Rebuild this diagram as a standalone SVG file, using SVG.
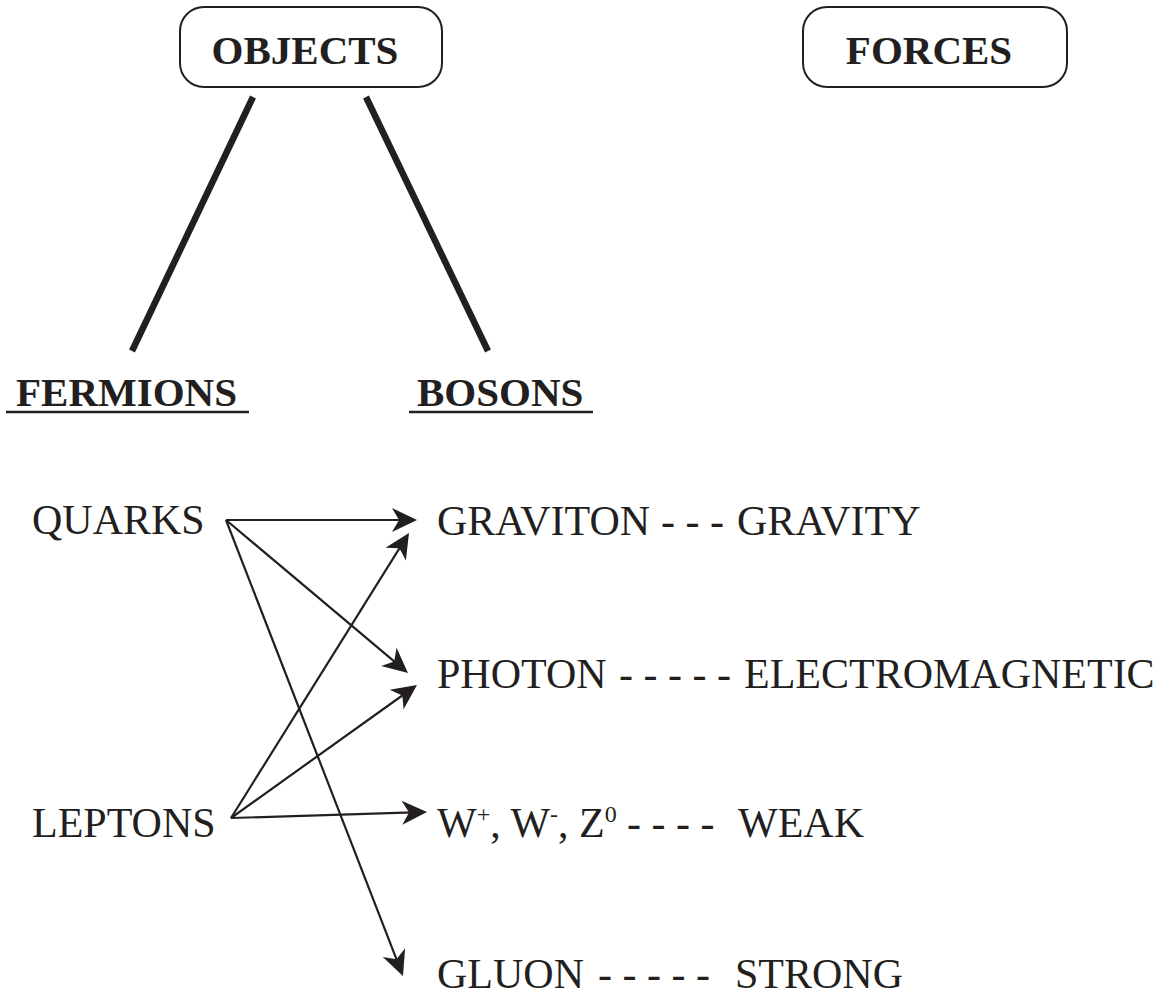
<svg xmlns="http://www.w3.org/2000/svg" width="1167" height="998" viewBox="0 0 1167 998">
  <style>
    .box { fill: #ffffff; stroke: #231f20; stroke-width: 2; }
    .hdr { font-family: "Liberation Serif", "Times New Roman", serif; font-weight: bold; font-size: 41px; fill: #231f20; }
    .lbl { font-family: "Liberation Serif", "Times New Roman", serif; font-size: 42px; fill: #231f20; }
    .thick { stroke: #231f20; stroke-width: 6.5; fill: none; }
    .ul { stroke: #231f20; stroke-width: 2.7; }
    .arr { stroke: #231f20; stroke-width: 2.2; fill: none; marker-end: url(#ah); }
  </style>
  <defs>
    <marker id="ah" markerUnits="userSpaceOnUse" viewBox="-20 -13 28 26" markerWidth="28" markerHeight="26" refX="0" refY="0" orient="auto">
      <path d="M6,0 L-19,-12 L-12,0 L-19,12 Z" fill="#231f20"/>
    </marker>
  </defs>
  <rect width="1167" height="998" fill="#ffffff"/>

  <g id="objects">
    <rect class="box" x="180" y="7" width="262" height="80" rx="24"/>
    <text class="hdr" x="305" y="64" text-anchor="middle">OBJECTS</text>
  </g>
  <g id="forces">
    <rect class="box" x="803" y="7" width="264" height="80" rx="24"/>
    <text class="hdr" x="929" y="64" text-anchor="middle">FORCES</text>
  </g>
  <g id="fermions">
    <text class="hdr" x="16" y="406">FERMIONS</text>
    <line class="ul" x1="6" y1="412" x2="249" y2="412"/>
  </g>
  <g id="bosons">
    <text class="hdr" x="417" y="406">BOSONS</text>
    <line class="ul" x1="409" y1="412" x2="593" y2="412"/>
  </g>
  <g id="quarks">
    <text class="lbl" x="32" y="534">QUARKS</text>
  </g>
  <g id="leptons">
    <text class="lbl" x="32" y="837">LEPTONS</text>
  </g>
  <g id="graviton">
    <text class="lbl" x="437" y="535">GRAVITON<tspan x="661">- - -</tspan><tspan x="737">GRAVITY</tspan></text>
  </g>
  <g id="photon">
    <text class="lbl" x="437" y="688">PHOTON<tspan x="619">- - - - -</tspan><tspan x="744">ELECTROMAGNETIC</tspan></text>
  </g>
  <g id="weak">
    <text class="lbl" x="437" y="837">W<tspan font-size="24" dy="-15">+</tspan><tspan dy="15">, W</tspan><tspan font-size="24" dy="-15">-</tspan><tspan dy="15">, Z</tspan><tspan font-size="24" dy="-15">0</tspan><tspan x="627" dy="15">- - - -</tspan><tspan x="738">WEAK</tspan></text>
  </g>
  <g id="gluon">
    <text class="lbl" x="437" y="988">GLUON<tspan x="598">- - - - -</tspan><tspan x="735">STRONG</tspan></text>
  </g>

  <g id="connectors">
    <line class="thick" x1="253" y1="97" x2="132" y2="351"/>
    <line class="thick" x1="366" y1="97" x2="488" y2="351"/>
    <line class="arr" x1="226" y1="520" x2="411" y2="520"/>
    <line class="arr" x1="226" y1="520" x2="403.4" y2="669.1"/>
    <line class="arr" x1="226" y1="520" x2="400.8" y2="970.4"/>
    <line class="arr" x1="231" y1="818" x2="405.8" y2="538.1"/>
    <line class="arr" x1="231" y1="818" x2="412.1" y2="688.5"/>
    <line class="arr" x1="231" y1="818" x2="421" y2="812.2"/>
  </g>
</svg>
